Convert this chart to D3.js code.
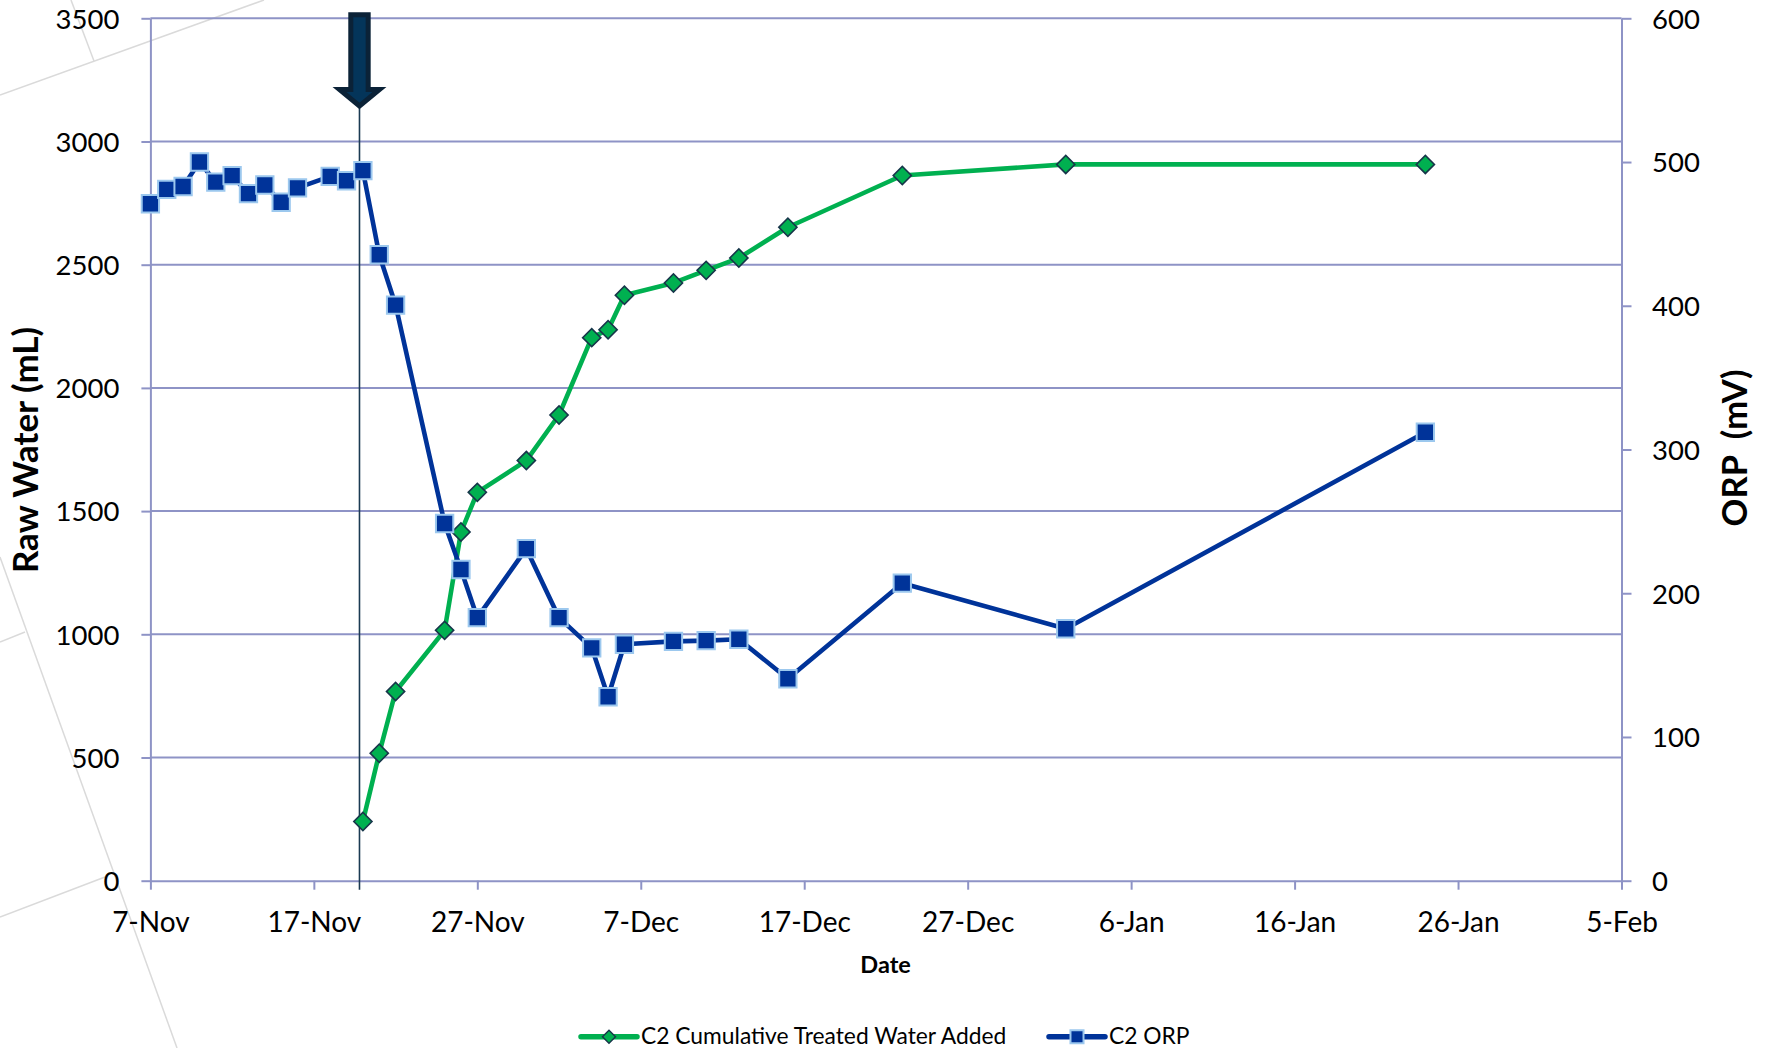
<!DOCTYPE html>
<html>
<head>
<meta charset="utf-8">
<script src="https://cdn.jsdelivr.net/npm/d3@7"></script>
<style>
  html, body { margin: 0; padding: 0; background: #ffffff; }
  svg { display: block; font-family: Lato, "Open Sans", "Liberation Sans", sans-serif; }
</style>
</head>
<body>
<svg id="chart" width="1769" height="1048"></svg>
<script>
// ---- data -------------------------------------------------------------
const waterDates = ["2011-11-20","2011-11-21","2011-11-22","2011-11-25","2011-11-26","2011-11-27",
  "2011-11-30","2011-12-02","2011-12-04","2011-12-05","2011-12-06","2011-12-09","2011-12-11",
  "2011-12-13","2011-12-16","2011-12-23","2012-01-02","2012-01-24"];
const waterValues = [240, 517, 768, 1016, 1415, 1576, 1705, 1890, 2204, 2236, 2376, 2426, 2477,
  2527, 2652, 2862, 2907, 2907];

const orpDates = ["2011-11-07","2011-11-08","2011-11-09","2011-11-10","2011-11-11","2011-11-12",
  "2011-11-13","2011-11-14","2011-11-15","2011-11-16","2011-11-18","2011-11-19","2011-11-20",
  "2011-11-21","2011-11-22","2011-11-25","2011-11-26","2011-11-27","2011-11-30","2011-12-02",
  "2011-12-04","2011-12-05","2011-12-06","2011-12-09","2011-12-11","2011-12-13","2011-12-16",
  "2011-12-23","2012-01-02","2012-01-24"];
const orpValues = [471, 481, 483, 500, 486, 490.5, 478, 484, 472, 482, 490, 487, 494,
  435.5, 400.5, 248.5, 216.5, 183, 231, 183, 162, 128, 164.5, 166.5, 167, 168, 140.5,
  207, 175.3, 312];

const xTickDates = ["2011-11-07","2011-11-17","2011-11-27","2011-12-07","2011-12-17",
  "2011-12-27","2012-01-06","2012-01-16","2012-01-26","2012-02-05"];
const leftTicks = [0, 500, 1000, 1500, 2000, 2500, 3000, 3500];
const rightTicks = [0, 100, 200, 300, 400, 500, 600];
const seriesNames = ["C2 Cumulative Treated Water Added", "C2 ORP"];
const treatmentStart = "2011-11-19T19:00:00Z";   // start of treated water addition (arrow)

// ---- setup ------------------------------------------------------------
const parse = d3.utcParse("%Y-%m-%d");
const fmt = d3.utcFormat("%-d-%b");
const water = waterDates.map((d, i) => ({ date: parse(d), value: waterValues[i] }));
const orp = orpDates.map((d, i) => ({ date: parse(d), value: orpValues[i] }));
const ticksX = xTickDates.map(parse);

const svg = d3.select("#chart");
const plot = { left: 150.4, right: 1621.5, top: 18.3, bottom: 880.7 };

const x = d3.scaleUtc().domain([ticksX[0], ticksX[ticksX.length - 1]]).range([plot.left, plot.right]);
const yL = d3.scaleLinear().domain([0, 3500]).range([plot.bottom, plot.top]);
const yR = d3.scaleLinear().domain([0, 600]).range([plot.bottom, plot.top]);

const axisColor = "#8E93C6";
const green = "#00B050";
const blue = "#003399";

svg.append("rect").attr("width", 1769).attr("height", 1048).attr("fill", "#ffffff");

// faint background strokes
const bg = svg.append("g").attr("stroke", "#dadada").attr("stroke-width", 1.5).attr("fill", "none");
[[[0, 95], [264, 0]], [[71, 0], [94, 61]], [[0, 557], [177, 1048]],
 [[0, 642], [25, 632]], [[0, 917], [105, 877]]].forEach(seg => {
  bg.append("path").attr("d", d3.line()(seg));
});

// horizontal gridlines (left axis)
svg.append("g")
  .selectAll("line")
  .data(leftTicks.filter(v => v > 0))
  .join("line")
  .attr("x1", plot.left).attr("x2", plot.right)
  .attr("y1", d => yL(d)).attr("y2", d => yL(d))
  .attr("stroke", axisColor).attr("stroke-width", 2);

// ---- axes -------------------------------------------------------------
function styleAxis(g, size) {
  g.selectAll(".domain").attr("stroke", axisColor).attr("stroke-width", 2);
  g.selectAll(".tick line").attr("stroke", axisColor).attr("stroke-width", 2);
  g.selectAll(".tick text").attr("fill", "#000").attr("font-size", size)
    .attr("font-family", "Lato, 'Open Sans', sans-serif");
}

const gx = svg.append("g").attr("transform", `translate(0,${plot.bottom})`)
  .call(d3.axisBottom(x).tickValues(ticksX).tickFormat(fmt).tickSize(9).tickSizeOuter(0));
styleAxis(gx, 28);
gx.selectAll(".tick text").attr("dy", null).attr("y", 51);

const gl = svg.append("g").attr("transform", `translate(${plot.left},0)`)
  .call(d3.axisLeft(yL).tickValues(leftTicks).tickFormat(d3.format("d")).tickSize(9).tickSizeOuter(0));
styleAxis(gl, 27.5);
gl.selectAll(".tick text").attr("dy", null).attr("x", -31).attr("y", 9.8);

const gr = svg.append("g").attr("transform", `translate(${plot.right},0)`)
  .call(d3.axisRight(yR).tickValues(rightTicks).tickFormat(d3.format("d")).tickSize(10).tickSizeOuter(0));
styleAxis(gr, 27.5);
gr.selectAll(".tick text").attr("dy", null).attr("x", 30.5).attr("y", 9.8);

// axis titles
svg.append("text").attr("x", 885.6).attr("y", 973).attr("text-anchor", "middle")
  .attr("font-weight", 700).attr("font-size", 23.5).text("Date");
svg.append("text").attr("transform", "translate(38,450) rotate(-90)").attr("text-anchor", "middle")
  .attr("font-weight", 700).attr("font-size", 35).text("Raw Water (mL)");
svg.append("text").attr("transform", "translate(1747,448) rotate(-90)").attr("text-anchor", "middle")
  .attr("font-weight", 700).attr("font-size", 34.5).attr("xml:space", "preserve")
  .style("white-space", "pre").text("ORP  (mV)");

// ---- treatment marker -------------------------------------------------
const xa = x(d3.isoParse(treatmentStart));
svg.append("line").attr("x1", xa).attr("x2", xa).attr("y1", 105).attr("y2", plot.bottom + 9)
  .attr("stroke", "#1B3A52").attr("stroke-width", 1.6);
const arrow = [[xa - 8.7, plot.top - 3.5], [xa + 8.7, plot.top - 3.5], [xa + 8.7, 89.5], [xa + 20, 89.5],
  [xa, 106], [xa - 20, 89.5], [xa - 8.7, 89.5]];
svg.append("path").attr("d", d3.line()(arrow) + "Z")
  .attr("fill", "#04355A").attr("stroke", "#0B2237").attr("stroke-width", 5)
  .attr("stroke-linejoin", "miter");

// ---- series -----------------------------------------------------------
const lineWater = d3.line().x(d => x(d.date)).y(d => yL(d.value));
const lineOrp = d3.line().x(d => x(d.date)).y(d => yR(d.value));

svg.append("path").datum(water).attr("d", lineWater)
  .attr("fill", "none").attr("stroke", green).attr("stroke-width", 4.6).attr("stroke-linejoin", "round");
svg.append("path").datum(orp).attr("d", lineOrp)
  .attr("fill", "none").attr("stroke", blue).attr("stroke-width", 4.6).attr("stroke-linejoin", "round");

const diamond = d3.symbol().type(d3.symbolSquare).size(165)();
svg.append("g").selectAll("path").data(water).join("path")
  .attr("d", diamond)
  .attr("transform", d => `translate(${x(d.date)},${yL(d.value)}) rotate(45)`)
  .attr("fill", green).attr("stroke", "#17364A").attr("stroke-width", 1.6);

const square = d3.symbol().type(d3.symbolSquare).size(300)();
svg.append("g").selectAll("path").data(orp).join("path")
  .attr("d", square)
  .attr("transform", d => `translate(${x(d.date)},${yR(d.value)})`)
  .attr("fill", blue).attr("stroke", "#9CC8EE").attr("stroke-width", 2);

// ---- legend -----------------------------------------------------------
const legend = svg.append("g").attr("transform", "translate(0,1036.7)");
const items = [
  { name: seriesNames[0], x0: 581, color: green, marker: d3.symbol().type(d3.symbolSquare).size(85)(),
    rot: 45, mstroke: "#17364A", msw: 1.4 },
  { name: seriesNames[1], x0: 1049, color: blue, marker: d3.symbol().type(d3.symbolSquare).size(170)(),
    rot: 0, mstroke: "#9CC8EE", msw: 2 }
];
items.forEach(it => {
  legend.append("line").attr("x1", it.x0).attr("x2", it.x0 + 56).attr("y1", 0).attr("y2", 0)
    .attr("stroke", it.color).attr("stroke-width", 5.5).attr("stroke-linecap", "round");
  legend.append("path").attr("d", it.marker)
    .attr("transform", `translate(${it.x0 + 28},0) rotate(${it.rot})`)
    .attr("fill", it.color).attr("stroke", it.mstroke).attr("stroke-width", it.msw);
  legend.append("text").attr("x", it.x0 + 60).attr("y", 7.5).attr("font-size", 22.8)
    .attr("fill", "#000").text(it.name);
});
</script>
</body>
</html>
